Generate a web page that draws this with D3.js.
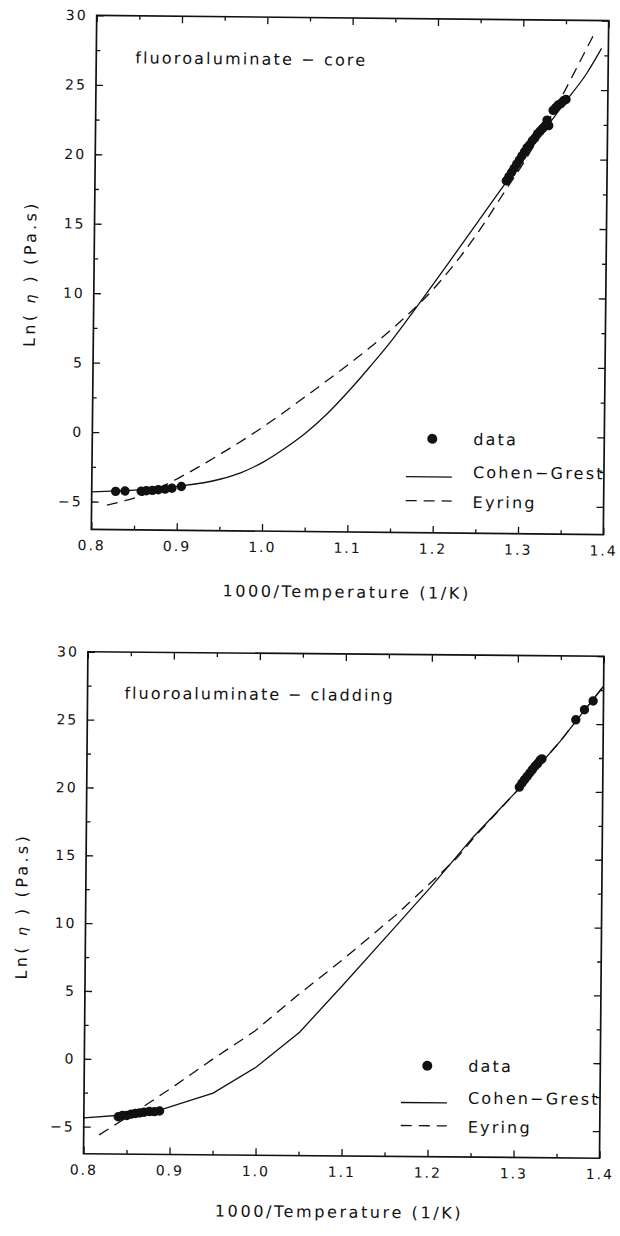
<!DOCTYPE html>
<html><head><meta charset="utf-8">
<script src="https://cdn.jsdelivr.net/npm/d3@7"></script>
<style>
body{margin:0;background:#fff}
text{font-family:"DejaVu Sans",sans-serif;fill:#111}
</style>
</head><body>
<svg id="c" width="620" height="1236"></svg>
<script>
// ---- tick labels ----
const xTickValues = [0.8, 0.9, 1.0, 1.1, 1.2, 1.3, 1.4];
const xTickLabels = ["0.8", "0.9", "1.0", "1.1", "1.2", "1.3", "1.4"];
const xMinorTicks = [0.85, 0.95, 1.05, 1.15, 1.25, 1.35];
const yTickValues = [-5, 0, 5, 10, 15, 20, 25, 30];
const yTickLabels = ["\u22125", "0", "5", "10", "15", "20", "25", "30"];
const yMinorTicks = [-2.5, 2.5, 7.5, 12.5, 17.5, 22.5, 27.5];
const legendLabels = ["data", "Cohen\u2212Grest", "Eyring"];

// ---- core panel ----
const coreDataX = [0.828,0.839,0.858,0.864,0.871,0.878,0.886,0.894,0.905,
  1.282,1.285,1.288,1.291,1.294,1.297,1.300,1.303,1.306,1.309,1.312,1.315,1.318,1.321,1.324,1.327,1.329,1.331,
  1.336,1.339,1.342,1.345,1.348,1.351];
const coreDataY = [-4.25,-4.22,-4.22,-4.18,-4.15,-4.1,-4.05,-3.98,-3.85,
  18.4,18.7,19.0,19.3,19.6,19.9,20.2,20.5,20.8,21.0,21.3,21.5,21.8,22.0,22.2,22.4,22.8,22.4,
  23.5,23.7,23.9,24.0,24.2,24.3];
const coreCGX = [0.80,0.85,0.90,0.95,0.975,1.00,1.025,1.05,1.075,1.10,1.125,1.15,1.175,1.20,1.225,1.25,1.275,1.30,1.325,1.35,1.375,1.392];
const coreCGY = [-4.3,-4.15,-3.85,-3.3,-2.8,-2.05,-1.05,0.1,1.5,3.15,4.95,6.85,8.95,11.1,13.3,15.5,17.7,19.9,22.0,24.1,26.2,28.0];
const coreEyX = [0.818,0.84,0.86,0.88,0.90,0.95,1.00,1.05,1.10,1.15,1.20,1.25,1.28,1.30,1.32,1.34,1.36,1.382];
const coreEyY = [-5.25,-4.9,-4.5,-3.95,-3.3,-1.5,0.5,2.75,5.1,7.65,10.7,14.7,17.6,19.5,21.6,23.8,26.2,28.9];

// ---- cladding panel ----
const cladDataX = [0.840,0.845,0.850,0.855,0.860,0.865,0.870,0.876,0.882,0.888,
  1.303,1.306,1.309,1.312,1.315,1.318,1.321,1.324,1.327,1.329,
  1.368,1.378,1.388];
const cladDataY = [-4.25,-4.15,-4.15,-4.05,-4.0,-3.95,-3.9,-3.85,-3.85,-3.8,
  20.3,20.6,20.85,21.1,21.35,21.6,21.85,22.05,22.3,22.4,
  25.3,26.05,26.7];
const cladCGX = [0.80,0.85,0.89,0.95,1.00,1.05,1.10,1.15,1.20,1.25,1.30,1.35,1.40];
const cladCGY = [-4.35,-4.1,-3.7,-2.45,-0.5,2.1,5.6,9.2,12.8,16.6,20.0,23.7,27.8];
const cladEyX = [0.818,0.862,0.906,0.948,0.998,1.047,1.10,1.16,1.211,1.232,1.25,1.30,1.35,1.40];
const cladEyY = [-5.6,-3.8,-1.9,0.0,2.15,4.8,7.5,10.75,13.8,15.1,16.5,20.0,23.7,27.8];

const svg = d3.select("#c");

function panel(o) {
  const w = o.w, h = o.h;
  const g = svg.append("g")
    .attr("transform", `translate(${o.cx},${o.cy}) rotate(${o.rot}) translate(${-w/2},${-h/2})`);
  const x = d3.scaleLinear().domain([0.8, 1.4]).range([0, w]);
  const y = d3.scaleLinear().domain([-7, 30]).range([h, 0]);

  const tickStyle = a => {
    a.select(".domain").remove();
    a.selectAll(".tick line").attr("stroke", "#111").attr("stroke-width", 1.3);
    a.selectAll("text").attr("font-size", 14).attr("letter-spacing", "2px").attr("fill", "#111");
  };
  // major ticks
  g.append("g").attr("transform", `translate(0,${h})`)
    .call(d3.axisBottom(x).tickValues(xTickValues).tickSize(-7).tickSizeOuter(0).tickPadding(11)
      .tickFormat((d, i) => xTickLabels[i])).call(tickStyle);
  g.append("g")
    .call(d3.axisTop(x).tickValues(xTickValues).tickSize(-7).tickSizeOuter(0).tickFormat("")).call(tickStyle);
  g.append("g")
    .call(d3.axisLeft(y).tickValues(yTickValues).tickSize(-7).tickSizeOuter(0).tickPadding(9)
      .tickFormat((d, i) => yTickLabels[i])).call(tickStyle);
  g.append("g").attr("transform", `translate(${w},0)`)
    .call(d3.axisRight(y).tickValues(yTickValues).tickSize(-7).tickSizeOuter(0).tickFormat("")).call(tickStyle);
  // minor ticks
  g.append("g").attr("transform", `translate(0,${h})`)
    .call(d3.axisBottom(x).tickValues(xMinorTicks).tickSize(-4).tickSizeOuter(0).tickFormat("")).call(tickStyle);
  g.append("g")
    .call(d3.axisTop(x).tickValues(xMinorTicks).tickSize(-4).tickSizeOuter(0).tickFormat("")).call(tickStyle);
  g.append("g")
    .call(d3.axisLeft(y).tickValues(yMinorTicks).tickSize(-4).tickSizeOuter(0).tickFormat("")).call(tickStyle);
  g.append("g").attr("transform", `translate(${w},0)`)
    .call(d3.axisRight(y).tickValues(yMinorTicks).tickSize(-4).tickSizeOuter(0).tickFormat("")).call(tickStyle);

  // frame
  g.append("rect").attr("x", 0).attr("y", 0).attr("width", w).attr("height", h)
    .attr("fill", "none").attr("stroke", "#111").attr("stroke-width", 1.7);

  const line = d3.line().x(d => x(d[0])).y(d => y(d[1])).curve(o.curve);
  const cg = o.cgX.map((v, i) => [v, o.cgY[i]]);
  const ey = o.eyX.map((v, i) => [v, o.eyY[i]]);
  g.append("path").datum(cg).attr("d", line).attr("fill", "none").attr("stroke", "#111").attr("stroke-width", 1.3);
  g.append("path").datum(ey).attr("d", line).attr("fill", "none").attr("stroke", "#111").attr("stroke-width", 1.3)
    .attr("stroke-dasharray", "11,7");
  const pts = o.dX.map((v, i) => [v, o.dY[i]]);
  g.append("g").selectAll("circle").data(pts).join("circle")
    .attr("cx", d => x(d[0])).attr("cy", d => y(d[1])).attr("r", 4.7).attr("fill", "#111");

  // title
  g.append("text").attr("x", o.titleX).attr("y", o.titleY).attr("dy", "0.35em")
    .attr("font-size", 16).attr("letter-spacing", o.titleLS + "px").text(o.title);

  // axis labels
  g.append("text").attr("x", w/2 + o.xlabDx).attr("y", h + o.xlabDy).attr("text-anchor", "middle")
    .attr("dy", "0.35em").attr("font-size", 16).attr("letter-spacing", "2.6px").text("1000/Temperature (1/K)");
  const yl = g.append("text").attr("transform", `translate(-64,${h/2 + o.ylabDy}) rotate(-90)`)
    .attr("text-anchor", "middle").attr("dy", "0.35em").attr("font-size", 16).attr("letter-spacing", "3.3px");
  yl.append("tspan").text("Ln( ");
  yl.append("tspan").attr("font-style", "italic").attr("font-size", 14).text("\u03B7");
  yl.append("tspan").text(" ) (Pa.s)");

  // legend
  const L = o.leg;
  g.append("circle").attr("cx", L.x + 26).attr("cy", L.y).attr("r", 5).attr("fill", "#111");
  g.append("line").attr("x1", L.x).attr("x2", L.x + 46).attr("y1", L.y + L.d1).attr("y2", L.y + L.d1)
    .attr("stroke", "#111").attr("stroke-width", 1.3);
  g.append("line").attr("x1", L.x).attr("x2", L.x + 46).attr("y1", L.y + L.d2).attr("y2", L.y + L.d2)
    .attr("stroke", "#111").attr("stroke-width", 1.3).attr("stroke-dasharray", "11,7");
  const ty = [0, L.d1 - 5, L.d2 + 1];
  legendLabels.forEach((t, i) => {
    g.append("text").attr("x", L.x + 67).attr("y", L.y + ty[i]).attr("dy", "0.35em")
      .attr("font-size", 16).attr("letter-spacing", "2.2px").text(t);
  });
}

panel({cx: 350, cy: 275, w: 512, h: 514, rot: 0.6, curve: d3.curveMonotoneX,
  dX: coreDataX, dY: coreDataY, cgX: coreCGX, cgY: coreCGY, eyX: coreEyX, eyY: coreEyY,
  title: "fluoroaluminate \u2212 core", titleX: 39, titleY: 42, titleLS: 2.15,
  xlabDx: 0, xlabDy: 60, ylabDy: 2,
  leg: {x: 314, y: 420, d1: 38, d2: 62}});

panel({cx: 343.7, cy: 905, w: 516, h: 502, rot: 0.5, curve: d3.curveLinear,
  dX: cladDataX, dY: cladDataY, cgX: cladCGX, cgY: cladCGY, eyX: cladEyX, eyY: cladEyY,
  title: "fluoroaluminate \u2212 cladding", titleX: 37, titleY: 41, titleLS: 2.0,
  xlabDx: -2, xlabDy: 56, ylabDy: 4,
  leg: {x: 317, y: 411, d1: 37, d2: 60}});
</script>
</body></html>
